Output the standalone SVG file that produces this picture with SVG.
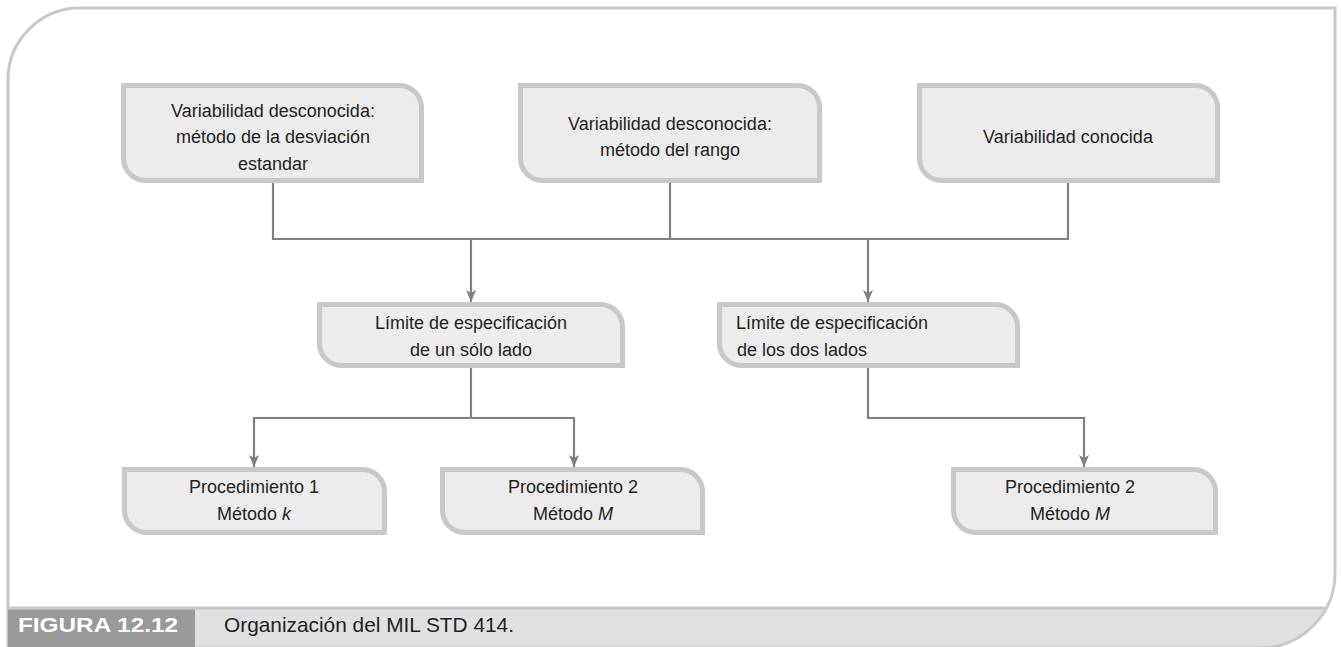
<svg xmlns="http://www.w3.org/2000/svg" width="1341" height="647" viewBox="0 0 1341 647">
<defs>
<style>
.box{fill:#ececec;stroke:#c8c8c8;stroke-width:5}
.t{font-family:"Liberation Sans",Arial,sans-serif;font-size:18px;fill:#231f20;text-anchor:middle}
.ts{font-family:"Liberation Sans",Arial,sans-serif;font-size:18px;fill:#231f20;text-anchor:start}
.c{fill:none;stroke:#808080;stroke-width:2.2}
.cap{font-family:"Liberation Sans",Arial,sans-serif;font-size:21px}
</style>
<marker id="ah" viewBox="0 0 12 10" refX="12" refY="5" markerWidth="12" markerHeight="10" markerUnits="userSpaceOnUse" orient="auto">
<path d="M0,0 L12,5 L0,10 L3,5 Z" fill="#808080"/>
</marker>
</defs>
<rect width="1341" height="647" fill="#ffffff"/>
<g id="frame">
<path d="M8,608 L1326.3,608 A75 75 0 0 1 1260,648 L8,648 Z" fill="#e0e0e0"/>
<line x1="8" y1="608" x2="1327" y2="608" stroke="#c8c8c8" stroke-width="3"/>
<path d="M8,80 A72 72 0 0 1 80,8 L1335,8 L1335,573 A75 75 0 0 1 1260,648 L8,648 Z" fill="none" stroke="#c8c8c8" stroke-width="3"/>
<rect x="8" y="609.5" width="187" height="40" fill="#999999"/>
<text class="cap" x="18" y="632" fill="#ffffff" font-weight="bold" font-size="23" textLength="160" lengthAdjust="spacingAndGlyphs">FIGURA 12.12</text>
<text class="cap" x="224" y="632" fill="#231f20" textLength="290" lengthAdjust="spacingAndGlyphs">Organización del MIL STD 414.</text>
</g>
<g id="connectors">
<path class="c" d="M273,183 V239 H1068 V183"/>
<path class="c" d="M670,183 V239"/>
<path class="c" d="M471,239 V302" marker-end="url(#ah)"/>
<path class="c" d="M868,239 V302" marker-end="url(#ah)"/>
<path class="c" d="M471,368 V418 H254 V467" marker-end="url(#ah)"/>
<path class="c" d="M471,418 H574 V467" marker-end="url(#ah)"/>
<path class="c" d="M868,368 V418 H1084 V467" marker-end="url(#ah)"/>
</g>
<g id="n1">
<path class="box" d="M123.5,85.5 H399.5 A22 22 0 0 1 421.5,107.5 V180.5 H145.5 A22 22 0 0 1 123.5,158.5 Z"/>
<text class="t" x="273" y="117">Variabilidad desconocida:</text>
<text class="t" x="273" y="143">método de la desviación</text>
<text class="t" x="273" y="170">estandar</text>
</g>
<g id="n2">
<path class="box" d="M520.5,85.5 H797.5 A22 22 0 0 1 819.5,107.5 V180.5 H542.5 A22 22 0 0 1 520.5,158.5 Z"/>
<text class="t" x="670" y="130">Variabilidad desconocida:</text>
<text class="t" x="670" y="156">método del rango</text>
</g>
<g id="n3">
<path class="box" d="M919.5,85.5 H1195.5 A22 22 0 0 1 1217.5,107.5 V180.5 H941.5 A22 22 0 0 1 919.5,158.5 Z"/>
<text class="t" x="1068" y="143">Variabilidad conocida</text>
</g>
<g id="n4">
<path class="box" d="M319.5,304.5 H600.5 A22 22 0 0 1 622.5,326.5 V365.5 H341.5 A22 22 0 0 1 319.5,343.5 Z"/>
<text class="t" x="471" y="329">Límite de especificación</text>
<text class="t" x="471" y="356">de un sólo lado</text>
</g>
<g id="n5">
<path class="box" d="M719.5,304.5 H995.5 A22 22 0 0 1 1017.5,326.5 V365.5 H741.5 A22 22 0 0 1 719.5,343.5 Z"/>
<text class="ts" x="736" y="329">Límite de especificación</text>
<text class="ts" x="737" y="356">de los dos lados</text>
</g>
<g id="n6">
<path class="box" d="M124.5,469.5 H362.5 A22 22 0 0 1 384.5,491.5 V532.5 H146.5 A22 22 0 0 1 124.5,510.5 Z"/>
<text class="t" x="254" y="493">Procedimiento 1</text>
<text class="t" x="254" y="520">Método <tspan font-style="italic">k</tspan></text>
</g>
<g id="n7">
<path class="box" d="M442.5,469.5 H680.5 A22 22 0 0 1 702.5,491.5 V532.5 H464.5 A22 22 0 0 1 442.5,510.5 Z"/>
<text class="t" x="573" y="493">Procedimiento 2</text>
<text class="t" x="573" y="520">Método <tspan font-style="italic">M</tspan></text>
</g>
<g id="n8">
<path class="box" d="M953.5,469.5 H1193.5 A22 22 0 0 1 1215.5,491.5 V532.5 H975.5 A22 22 0 0 1 953.5,510.5 Z"/>
<text class="t" x="1070" y="493">Procedimiento 2</text>
<text class="t" x="1070" y="520">Método <tspan font-style="italic">M</tspan></text>
</g>
</svg>
